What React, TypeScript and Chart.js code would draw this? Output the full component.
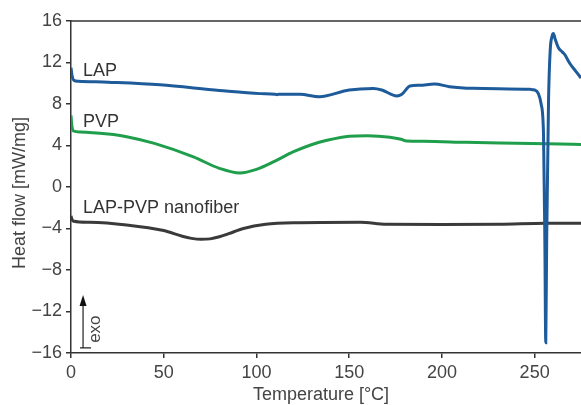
import React, { useEffect, useRef } from "react";
import { Chart, registerables } from "chart.js";

Chart.register(...registerables);

// Temperature (°C) and heat flow (mW/mg) for each sample
const lapT = [0, 0.5, 1.5, 4, 20, 48, 80, 102, 110, 111, 112, 123.5, 134, 150, 163, 167.6, 175.7, 178.4, 182.8, 188, 196, 204, 217, 247.6, 250, 252, 253.5, 254.8, 255.5, 256, 256.5, 257.5, 258.4, 259.5, 260.1, 261, 262.9, 265, 266.5, 267.4, 269, 272, 275];
const lapHF = [11.5, 10.8, 10.3, 10.2, 10.1, 9.85, 9.3, 9.0, 8.95, 8.9, 8.95, 8.93, 8.7, 9.35, 9.5, 9.35, 8.77, 8.93, 9.73, 9.8, 9.93, 9.67, 9.51, 9.41, 9.35, 9.0, 8.0, 5.0, -5, -15, -5, 8.4, 13.2, 14.6, 14.8, 14.3, 13.4, 13.0, 12.7, 12.4, 11.9, 11.2, 10.5];

const pvpT = [0, 0.4, 1.2, 5, 20, 30, 45, 66, 80, 91, 100, 110, 120, 130, 138, 150, 160, 172, 178, 181, 190, 213, 240, 264, 275];
const pvpHF = [6.9, 6.0, 5.4, 5.3, 5.1, 4.85, 4.2, 2.9, 1.8, 1.35, 1.7, 2.5, 3.4, 4.1, 4.5, 4.9, 4.95, 4.8, 4.6, 4.43, 4.4, 4.31, 4.22, 4.14, 4.1];

const nfT = [0, 0.5, 1.5, 10, 30, 50, 60, 65, 70, 75, 80, 85, 93, 105, 120, 156, 170, 200, 231, 256, 275];
const nfHF = [-2.8, -3.1, -3.3, -3.4, -3.66, -4.2, -4.75, -4.95, -5.04, -5.0, -4.8, -4.5, -4.0, -3.6, -3.45, -3.4, -3.6, -3.62, -3.6, -3.5, -3.5];

const seriesNames = ["LAP", "PVP", "LAP-PVP nanofiber"];
const seriesColors = ["#1d5b9a", "#1f9e4c", "#3a3a3a"];
// label anchor (data coords: temperature, heat flow baseline)
const labelX = [6.5, 6.5, 6.5];
const labelY = [10.7, 5.8, -2.5];

const xTitle = "Temperature [°C]";
const yTitle = "Heat flow [mW/mg]";
const exoText = "exo";

const X_MIN = 0;
const X_MAX = 275;
const Y_MIN = -16;
const Y_MAX = 16;

const FONT = "'Liberation Sans', Arial, Helvetica, sans-serif";

function pts(xs: number[], ys: number[]) {
  return xs.map((x, i) => ({ x, y: ys[i] }));
}

export default function App() {
  const ref = useRef<HTMLCanvasElement | null>(null);

  useEffect(() => {
    if (!ref.current) return;

    const overlay = {
      id: "overlay",
      afterDraw(chart: any) {
        const { ctx, chartArea, scales } = chart;
        const xs = scales.x;
        const ys = scales.y;
        ctx.save();
        // top frame line
        ctx.strokeStyle = "#333";
        ctx.lineWidth = 1.5;
        ctx.beginPath();
        ctx.moveTo(chartArea.left, chartArea.top);
        ctx.lineTo(chartArea.right, chartArea.top);
        ctx.stroke();

        // series labels
        ctx.fillStyle = "#333";
        ctx.font = `18px ${FONT}`;
        ctx.textAlign = "left";
        ctx.textBaseline = "alphabetic";
        seriesNames.forEach((n, i) => {
          ctx.fillText(n, xs.getPixelForValue(labelX[i]), ys.getPixelForValue(labelY[i]));
        });

        // exo arrow
        const ax = xs.getPixelForValue(6.5);
        const ay0 = ys.getPixelForValue(-15.5);
        const ay1 = ys.getPixelForValue(-10.4);
        ctx.strokeStyle = "#222";
        ctx.fillStyle = "#111";
        ctx.lineWidth = 1.2;
        ctx.beginPath();
        ctx.moveTo(ax - 3, ay0);
        ctx.lineTo(ax + 8, ay0);
        ctx.moveTo(ax, ay0);
        ctx.lineTo(ax, ay1 + 8);
        ctx.stroke();
        ctx.beginPath();
        ctx.moveTo(ax, ay1);
        ctx.lineTo(ax - 3.5, ay1 + 11);
        ctx.lineTo(ax + 3.5, ay1 + 11);
        ctx.closePath();
        ctx.fill();

        ctx.save();
        ctx.translate(xs.getPixelForValue(12.9), ys.getPixelForValue(-13.7));
        ctx.rotate(-Math.PI / 2);
        ctx.fillStyle = "#444";
        ctx.font = `17px ${FONT}`;
        ctx.textAlign = "center";
        ctx.textBaseline = "middle";
        ctx.fillText(exoText, 0, 0);
        ctx.restore();

        // axis titles
        ctx.fillStyle = "#444";
        ctx.font = `18px ${FONT}`;
        ctx.textAlign = "center";
        ctx.textBaseline = "alphabetic";
        ctx.fillText(xTitle, 321, 400);

        ctx.save();
        ctx.translate(20, 193);
        ctx.rotate(-Math.PI / 2);
        ctx.textBaseline = "middle";
        ctx.fillText(yTitle, 0, 0);
        ctx.restore();

        ctx.restore();
      },
    };

    const mk = (i: number, xs: number[], ys: number[]) => ({
      label: seriesNames[i],
      data: pts(xs, ys),
      borderColor: seriesColors[i],
      backgroundColor: seriesColors[i],
      borderWidth: 3,
      pointRadius: 0,
      cubicInterpolationMode: "monotone" as const,
      fill: false,
    });

    const chart = new Chart(ref.current, {
      type: "line",
      data: {
        datasets: [mk(0, lapT, lapHF), mk(1, pvpT, pvpHF), mk(2, nfT, nfHF)],
      },
      options: {
        animation: false,
        responsive: false,
        maintainAspectRatio: false,
        layout: { padding: { top: 21, right: 0, left: 0, bottom: 0 } },
        plugins: {
          legend: { display: false },
          tooltip: { enabled: false },
        },
        scales: {
          x: {
            type: "linear",
            min: X_MIN,
            max: X_MAX,
            afterFit: (s: any) => {
              s.height = 52;
            },
            afterBuildTicks: (s: any) => {
              s.ticks = [0, 50, 100, 150, 200, 250].map((v) => ({ value: v }));
            },
            ticks: {
              color: "#444",
              font: { size: 18, family: FONT },
              padding: 4,
              maxRotation: 0,
            },
            grid: { drawOnChartArea: false, drawTicks: true, tickLength: 5, color: "#333", lineWidth: 1.5 },
            border: { display: true, color: "#333", width: 1.5 },
          },
          y: {
            type: "linear",
            min: Y_MIN,
            max: Y_MAX,
            afterFit: (s: any) => {
              s.width = 71;
            },
            ticks: {
              stepSize: 4,
              color: "#444",
              font: { size: 18, family: FONT },
              padding: 4,
              callback: (v: any) => String(v).replace("-", "\u2212"),
            },
            grid: { drawOnChartArea: false, drawTicks: true, tickLength: 5, color: "#333", lineWidth: 1.5 },
            border: { display: true, color: "#333", width: 1.5 },
          },
        },
      },
      plugins: [overlay],
    });

    return () => chart.destroy();
  }, []);

  return (
    <div style={{ position: "absolute", left: 0, top: 0, width: 581, height: 405, background: "#fff" }}>
      <canvas ref={ref} width={581} height={405} style={{ width: 581, height: 405 }} />
    </div>
  );
}
